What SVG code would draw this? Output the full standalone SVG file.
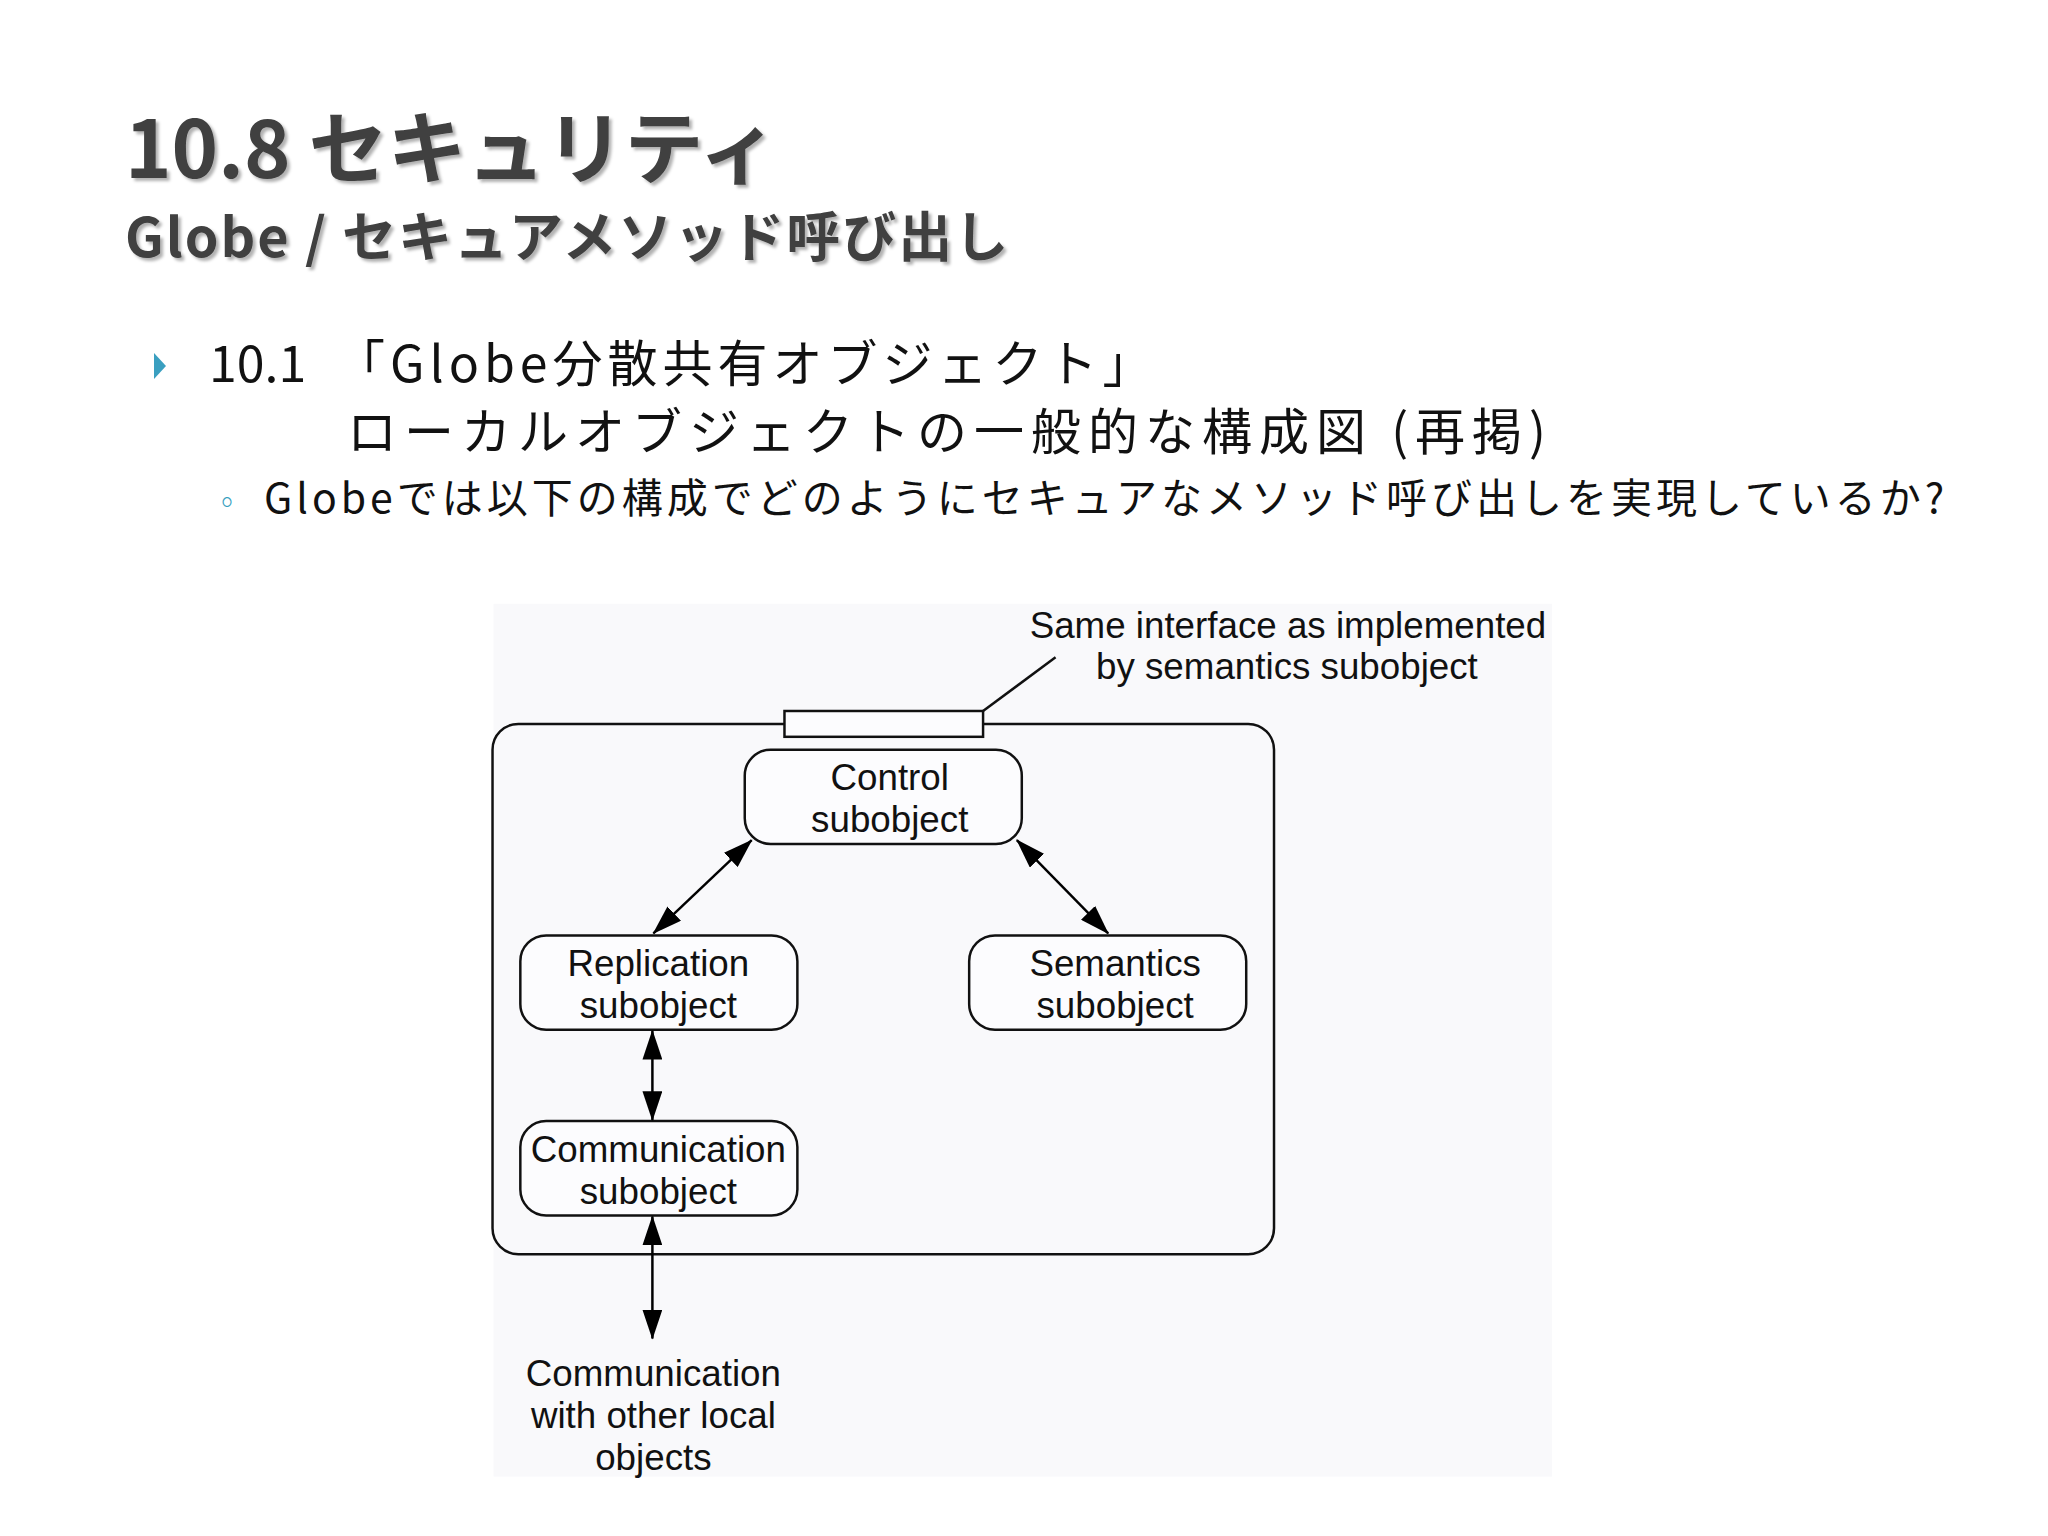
<svg xmlns="http://www.w3.org/2000/svg" width="2048" height="1536" viewBox="0 0 2048 1536">
<defs>
<marker id="ah" viewBox="0 0 30 20" refX="29" refY="10" markerWidth="30" markerHeight="20" markerUnits="userSpaceOnUse" orient="auto-start-reverse"><path d="M0,0 L30,10 L0,20 Z" fill="#000"/></marker>
<filter id="shd" x="-5%" y="-20%" width="110%" height="140%"><feDropShadow dx="3" dy="3" stdDeviation="1.5" flood-color="#000" flood-opacity="0.3"/></filter>
</defs>
<style>
.jp{font-family:"Noto Sans CJK JP","Noto Sans",sans-serif}
.ttl{font-weight:bold;fill:#3f3f3f;filter:url(#shd)}
.lab{font-family:"Liberation Sans",Arial,sans-serif;font-size:37px;fill:#111;text-anchor:middle}
.node{fill:#fcfcfe;stroke:#111;stroke-width:2.5}
.con{stroke:#000;stroke-width:2.5;fill:none;marker-start:url(#ah);marker-end:url(#ah)}
</style>
<rect width="2048" height="1536" fill="#fff"/>
<g id="title">
<text class="jp ttl" x="125" y="178" font-size="79">10.8 セキュリティ</text>
<text class="jp ttl" x="125" y="257" font-size="54" letter-spacing="2">Globe / セキュアメソッド呼び出し</text>
</g>
<g id="bullets">
<path d="M154,353 L166,366 L154,379 Z" fill="#3a9fc0"/>
<text class="jp" x="209" y="382" font-size="50" fill="#111">10.1</text>
<text class="jp" x="335" y="382" font-size="50" letter-spacing="5" fill="#111">「Globe分散共有オブジェクト」</text>
<text class="jp" x="347" y="450" font-size="50" letter-spacing="7" fill="#111">ローカルオブジェクトの一般的な構成図 (再掲)</text>
<text class="jp" x="212" y="513" font-size="30" fill="#3a9fc0">◦</text>
<text class="jp" x="264" y="513" font-size="41" letter-spacing="4" fill="#111">Globeでは以下の構成でどのようにセキュアなメソッド呼び出しを実現しているか?</text>
</g>
<g transform="scale(0.993)">
<rect x="497" y="608" width="1066" height="879" fill="#f9f9fb"/>
<g id="container">
<rect x="496" y="729" width="787" height="534" rx="26" fill="none" stroke="#111" stroke-width="2.5"/>
<rect x="790" y="716" width="200" height="26" fill="#fcfcfe" stroke="#111" stroke-width="2.5"/>
<line x1="990" y1="716" x2="1063" y2="662" stroke="#111" stroke-width="2.5"/>
<text class="lab" x="1297" y="642">Same interface as implemented</text>
<text class="lab" x="1296" y="684">by semantics subobject</text>
</g>
<g id="control"><rect class="node" x="750" y="755" width="279" height="95" rx="26"/><text class="lab" x="896" y="796">Control</text><text class="lab" x="896" y="838">subobject</text></g>
<g id="replication"><rect class="node" x="524" y="942" width="279" height="95" rx="26"/><text class="lab" x="663" y="983">Replication</text><text class="lab" x="663" y="1025">subobject</text></g>
<g id="semantics"><rect class="node" x="976" y="942" width="279" height="95" rx="26"/><text class="lab" x="1123" y="983">Semantics</text><text class="lab" x="1123" y="1025">subobject</text></g>
<g id="communication"><rect class="node" x="524" y="1129" width="279" height="95" rx="26"/><text class="lab" x="663" y="1170">Communication</text><text class="lab" x="663" y="1212">subobject</text></g>
<g id="external"><text class="lab" x="658" y="1396">Communication</text><text class="lab" x="658" y="1438">with other local</text><text class="lab" x="658" y="1480">objects</text></g>
<g id="connectors">
<line class="con" x1="757" y1="846" x2="658" y2="940"/>
<line class="con" x1="1024" y1="846" x2="1116" y2="940"/>
<line class="con" x1="657" y1="1038" x2="657" y2="1128"/>
<line class="con" x1="657" y1="1225" x2="657" y2="1348"/>
</g>
</g>
</svg>
